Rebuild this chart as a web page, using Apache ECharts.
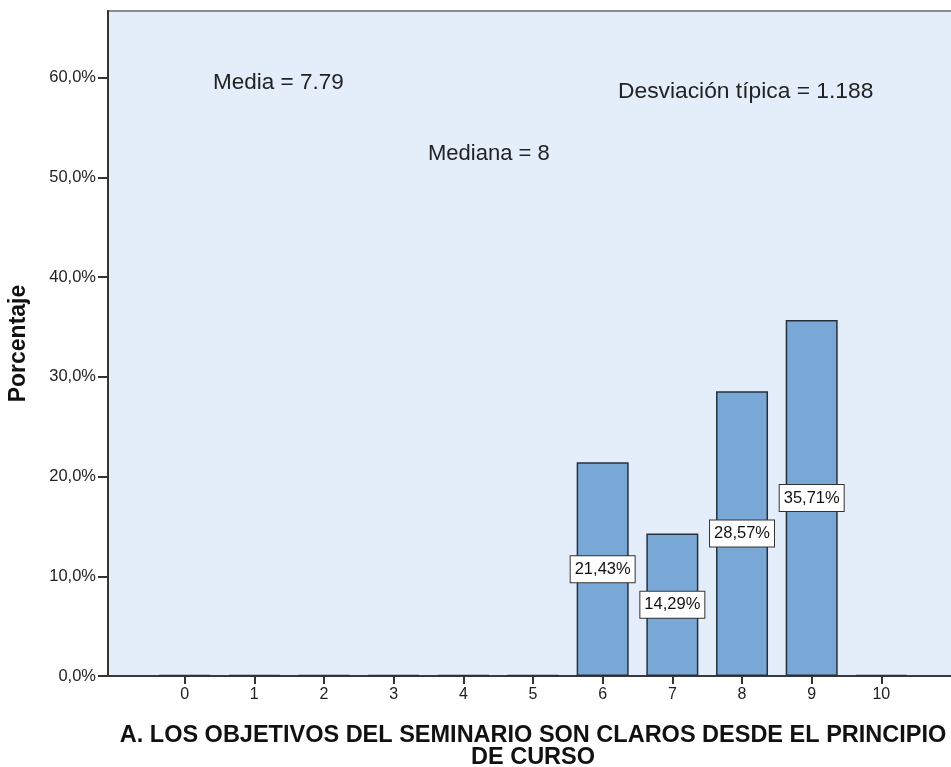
<!DOCTYPE html>
<html>
<head>
<meta charset="utf-8">
<script src="https://cdn.jsdelivr.net/npm/echarts@6/dist/echarts.min.js"></script>
<style>
html,body{margin:0;padding:0;background:#fff;}
#c{width:951px;height:767px;}
</style>
</head>
<body>
<div id="c"></div>
<script>
var categories = [0,1,2,3,4,5,6,7,8,9,10];
var percentages = [0,0,0,0,0,0,21.43,14.29,28.57,35.71,0];
var yTicks = [0,10,20,30,40,50,60];
var statsTexts = ['Media = 7.79', 'Mediana = 8', 'Desviación típica = 1.188'];
var xTitle = 'A. LOS OBJETIVOS DEL SEMINARIO SON CLAROS DESDE EL PRINCIPIO\nDE CURSO';
var yTitle = 'Porcentaje';

var FONT = '"Liberation Sans", Arial, sans-serif';
var chart = echarts.init(document.getElementById('c'));
var barData = categories.map(function(c,i){
  return {value: [c, percentages[i]], label: {show: percentages[i] > 0}};
});

chart.setOption({
  backgroundColor: '#ffffff',
  animation: false,
  grid: {
    left: 108, top: 11, width: 850, height: 665,
    outerBoundsMode: 'none', containLabel: false,
    show: true, backgroundColor: '#E3EEFA', borderColor: '#8c8c8c', borderWidth: 2
  },
  xAxis: {
    type: 'value', min: -1.1, max: 11.1,
    name: xTitle, nameLocation: 'middle', nameGap: 49,
    nameTextStyle: {fontFamily: FONT, fontSize: 23.5, fontWeight: 'bold', color: '#111', lineHeight: 22},
    axisLine: {show: true, onZero: false, lineStyle: {color: '#3a3a3a', width: 2}},
    axisTick: {show: true, length: 8, lineStyle: {color: '#333', width: 2}, customValues: categories},
    axisLabel: {customValues: categories, fontFamily: FONT, fontSize: 16, color: '#222', margin: 11},
    splitLine: {show: false}
  },
  yAxis: {
    type: 'value', min: 0, max: 66.7,
    name: yTitle, nameLocation: 'middle', nameGap: 78,
    nameTextStyle: {fontFamily: FONT, fontSize: 23, fontWeight: 'bold', color: '#111'},
    axisLine: {show: true, onZero: false, lineStyle: {color: '#333', width: 2}},
    axisTick: {show: true, length: 10, lineStyle: {color: '#333', width: 2}, customValues: yTicks},
    axisLabel: {customValues: yTicks, fontFamily: FONT, fontSize: 16.5, color: '#222', margin: 12,
      formatter: function(v){ return v.toFixed(1).replace('.', ',') + '%'; }},
    splitLine: {show: false}
  },
  series: [{
    type: 'bar',
    data: barData,
    barWidth: 52,
    barMinHeight: 1,
    itemStyle: {color: '#7AA8D6', borderColor: '#26303a', borderWidth: 1.5},
    label: {
      position: 'inside',
      formatter: function(p){ return p.value[1].toFixed(2).replace('.', ',') + '%'; },
      fontFamily: FONT, fontSize: 16.5, color: '#111',
      backgroundColor: '#ffffff', borderColor: '#333', borderWidth: 1, padding: [5, 4, 4, 4]
    }
  }],
  graphic: [
    {type: 'text', x: 213, y: 83, style: {text: statsTexts[0], font: '22.5px ' + FONT, fill: '#222', verticalAlign: 'middle'}},
    {type: 'text', x: 428, y: 154, style: {text: statsTexts[1], font: '22px ' + FONT, fill: '#222', verticalAlign: 'middle'}},
    {type: 'text', x: 618, y: 92, style: {text: statsTexts[2], font: '22.8px ' + FONT, fill: '#222', verticalAlign: 'middle'}}
  ]
});
</script>
</body>
</html>
